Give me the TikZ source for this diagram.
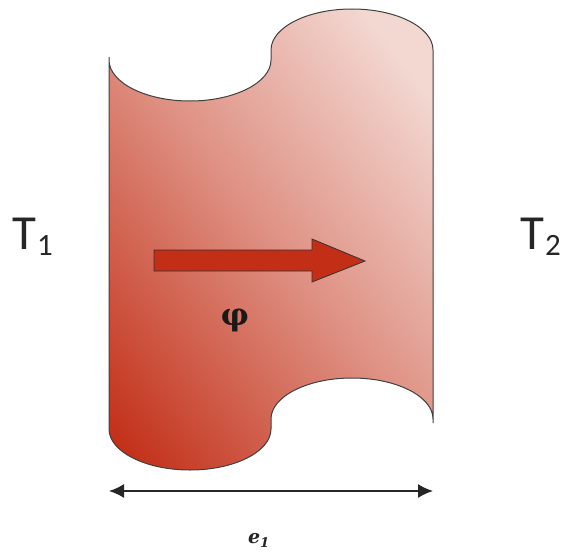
\documentclass[tikz,border=0pt]{standalone}
\usepackage{fontspec}
\setmainfont{Carlito}
\newfontfamily\serifgreek{DejaVu Serif}
\usetikzlibrary{arrows.meta}
\definecolor{deepred}{HTML}{C22E16}
\definecolor{palered}{HTML}{F3D8D2}
\pgfdeclarehorizontalshading{wallramp}{100bp}{color(0bp)=(deepred); color(17bp)=(deepred); color(50bp)=(deepred!42!palered); color(78bp)=(palered); color(100bp)=(palered)}
\tikzset{
  x=1pt,y=-1pt,
  wall/.style={draw=black!75,line width=1pt,shading=wallramp,shading angle=38},
  flux/.style={draw=black!80,line width=0.8pt,fill=deepred,line join=miter},
  dim/.style={draw=black!85,line width=1.6pt,{Latex[length=15pt,width=14pt]}-{Latex[length=15pt,width=14pt]}},
  temp/.style={inner sep=0pt,anchor=base west,font=\fontsize{49}{49}\selectfont,text=black!85}
}
\newcommand{\lowidx}[1]{\kern1pt\raisebox{-6pt}{\fontsize{31}{31}\selectfont #1}}
\begin{document}
\begin{tikzpicture}
\useasboundingbox (0,0) rectangle (561,551);
\path[wall] (109,57) -- (109,60)
  .. controls (109,82.5) and (145.5,101) .. (190,101)
  .. controls (234.5,101) and (271,82.5) .. (271,60)
  -- (271,50)
  .. controls (271,27.4) and (307.5,9) .. (352,9)
  .. controls (396.5,9) and (433,27.4) .. (433,50)
  -- (433,423) -- (433,419)
  .. controls (433,396.4) and (396.5,378) .. (352,378)
  .. controls (307.5,378) and (271,396.4) .. (271,419)
  -- (271,429)
  .. controls (271,451.6) and (234.5,470) .. (190,470)
  .. controls (145.5,470) and (109,451.6) .. (109,429)
  -- cycle;
\path[flux] (154,250) -- (312,250) -- (312,239) -- (365,261) -- (312,282) -- (312,271) -- (154,271) -- cycle;
\node[inner sep=0pt,font=\serifgreek\bfseries\fontsize{31}{31}\selectfont,text=black!90] (phi) at (235,320) {φ};
\node[temp] (t1) at (12,249) {T\lowidx{1}};
\node[temp] (t2) at (520,249) {T\lowidx{2}};
\coordinate (dl) at (109,491);
\coordinate (dr) at (433,491);
\draw[dim] (dl) -- (dr);
\node[inner sep=0pt,font=\serifgreek\bfseries\itshape\fontsize{19}{19}\selectfont,text=black!85] (e) at (259,540) {e\textsubscript{1}};
\end{tikzpicture}
\end{document}
